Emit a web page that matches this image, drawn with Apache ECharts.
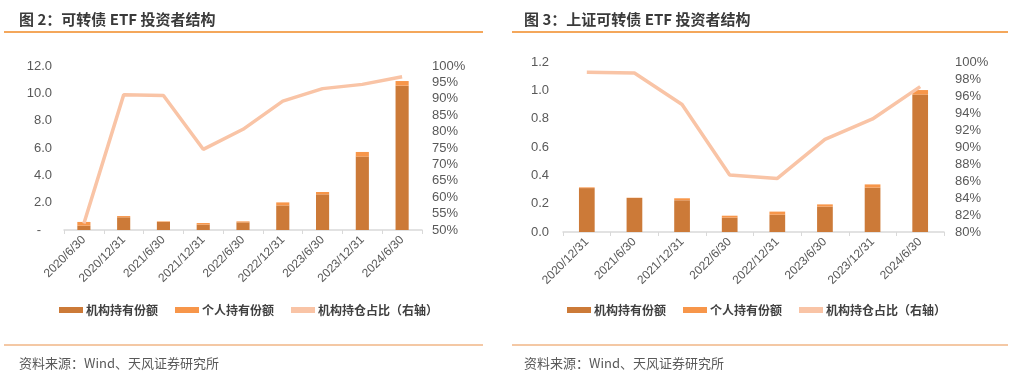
<!DOCTYPE html>
<html>
<head>
<meta charset="utf-8">
<script src="https://cdn.jsdelivr.net/npm/echarts@6/dist/echarts.min.js"></script>
<style>
  html, body { margin: 0; padding: 0; background: #fff; }
  #chart { width: 1018px; height: 375px; }
</style>
</head>
<body>
<div id="chart"></div>
<script>
// 图2 可转债ETF
const datesA = ['2020/6/30', '2020/12/31', '2021/6/30', '2021/12/31', '2022/6/30', '2022/12/31', '2023/6/30', '2023/12/31', '2024/6/30']
const instA = [0.32, 0.93, 0.59, 0.39, 0.56, 1.80, 2.61, 5.37, 10.56]
const indivA = [0.27, 0.09, 0.04, 0.12, 0.07, 0.22, 0.17, 0.34, 0.34]
const ratioA = [52.0, 91.2, 91.0, 74.6, 80.7, 89.3, 93.1, 94.4, 96.7]

// 图3 上证可转债ETF
const datesB = ['2020/12/31', '2021/6/30', '2021/12/31', '2022/6/30', '2022/12/31', '2023/6/30', '2023/12/31', '2024/6/30']
const instB = [0.310, 0.240, 0.224, 0.101, 0.122, 0.179, 0.313, 0.970]
const indivB = [0.005, 0.002, 0.014, 0.014, 0.022, 0.016, 0.023, 0.032]
const ratioB = [98.8, 98.7, 95.0, 86.7, 86.3, 90.9, 93.3, 97.1]

const names = ['机构持有份额', '个人持有份额', '机构持仓占比（右轴）']
const cInst = '#CC7A38'
const cIndiv = '#F7964A'
const cLine = '#F9C4A6'
const font = '"Liberation Sans", "Noto Sans CJK SC", sans-serif'
const cjk = '"Noto Sans CJK SC", sans-serif'
const labelColor = '#595959'

const chart = echarts.init(document.getElementById('chart'))

const xAxisOf = (data, gi) => ({
  type: 'category',
  gridIndex: gi,
  data,
  axisLine: { lineStyle: { color: '#D9D9D9', width: 1.5 } },
  axisTick: { show: true, length: 4, lineStyle: { color: '#D9D9D9' } },
  axisLabel: { rotate: 45, color: labelColor, fontSize: 12, fontFamily: font, margin: 8, interval: 0 }
})

const valAxis = (gi, min, max, interval, fmt, margin) => ({
  type: 'value',
  gridIndex: gi,
  min, max, interval,
  splitLine: { show: false },
  axisLine: { show: false },
  axisTick: { show: false },
  axisLabel: { color: labelColor, fontSize: 13, fontFamily: font, margin, formatter: fmt }
})

const seriesOf = (inst, indiv, ratio, xi, yl, yr) => [
  { name: names[0], type: 'bar', stack: 's' + xi, xAxisIndex: xi, yAxisIndex: yl, data: inst,
    barWidth: '33%', itemStyle: { color: cInst } },
  { name: names[1], type: 'bar', stack: 's' + xi, xAxisIndex: xi, yAxisIndex: yl, data: indiv,
    itemStyle: { color: cIndiv } },
  { name: names[2], type: 'line', xAxisIndex: xi, yAxisIndex: yr, data: ratio,
    symbol: 'none', lineStyle: { color: cLine, width: 3.5 }, itemStyle: { color: cLine }, z: 5 }
]

const legendOf = (left) => ({
  left, top: 304,
  padding: 0,
  data: names.map((n) => ({ name: n, icon: 'rect' })),
  itemWidth: 24, itemHeight: 6, itemGap: 17,
  textStyle: { fontSize: 12, fontWeight: 'bold', color: '#404040', fontFamily: cjk, padding: [0, 0, 0, -2] }
})

chart.setOption({
  animation: false,
  title: [
    { text: '图 2：可转债 ETF 投资者结构', left: 14, top: 7,
      textStyle: { fontSize: 15, fontWeight: 'bold', color: '#3A3A3A', fontFamily: cjk } },
    { text: '图 3：上证可转债 ETF 投资者结构', left: 519, top: 7,
      textStyle: { fontSize: 15, fontWeight: 'bold', color: '#3A3A3A', fontFamily: cjk } },
    { text: '资料来源：Wind、天风证券研究所', left: 14, top: 352,
      textStyle: { fontSize: 13, fontWeight: 'normal', color: labelColor, fontFamily: cjk } },
    { text: '资料来源：Wind、天风证券研究所', left: 519, top: 352,
      textStyle: { fontSize: 13, fontWeight: 'normal', color: labelColor, fontFamily: cjk } }
  ],
  graphic: [
    { type: 'line', shape: { x1: 4, y1: 32, x2: 483, y2: 32 }, style: { stroke: '#F08A24', lineWidth: 1.5 } },
    { type: 'line', shape: { x1: 512, y1: 32, x2: 1008, y2: 32 }, style: { stroke: '#F08A24', lineWidth: 1.5 } },
    { type: 'line', shape: { x1: 4, y1: 345, x2: 483, y2: 345 }, style: { stroke: '#E9914A', lineWidth: 1 } },
    { type: 'line', shape: { x1: 512, y1: 345, x2: 1008, y2: 345 }, style: { stroke: '#E9914A', lineWidth: 1 } }
  ],
  legend: [legendOf(59), legendOf(567)],
  grid: [
    { left: 64, right: 596, top: 66, bottom: 145 },
    { left: 563, right: 74, top: 62, bottom: 143 }
  ],
  xAxis: [xAxisOf(datesA, 0), xAxisOf(datesB, 1)],
  yAxis: [
    valAxis(0, 0, 12, 2, (v) => (v === 0 ? '-   ' : v.toFixed(1)), 12),
    valAxis(0, 50, 100, 5, '{value}%', 10),
    valAxis(1, 0, 1.2, 0.2, (v) => v.toFixed(1), 14),
    valAxis(1, 80, 100, 2, '{value}%', 11)
  ],
  series: [
    ...seriesOf(instA, indivA, ratioA, 0, 0, 1),
    ...seriesOf(instB, indivB, ratioB, 1, 2, 3)
  ]
})
</script>
</body>
</html>
